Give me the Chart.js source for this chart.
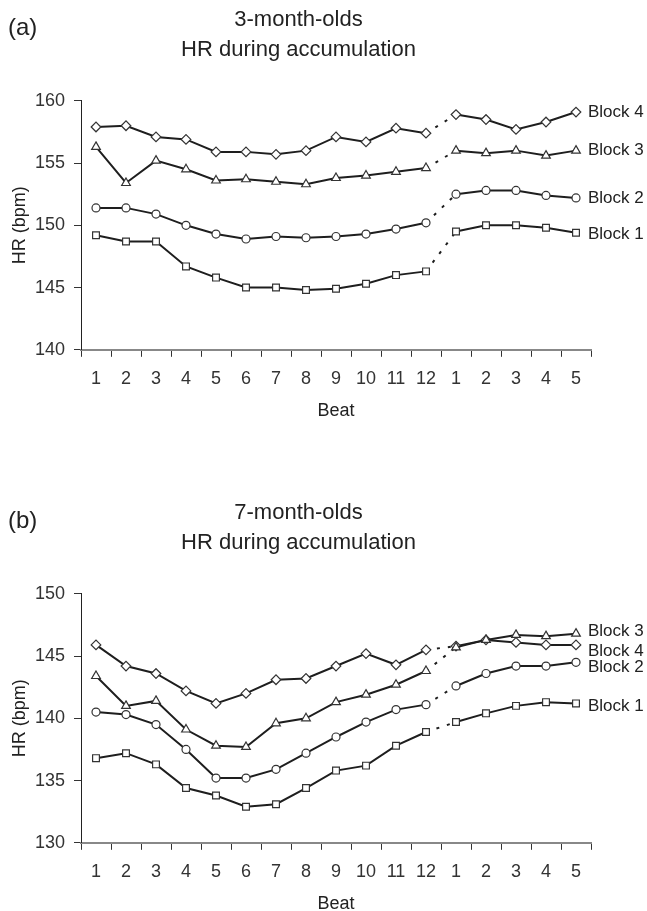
<!DOCTYPE html>
<html>
<head>
<meta charset="utf-8">
<script src="https://cdn.jsdelivr.net/npm/chart.js@4/dist/chart.umd.min.js"></script>
<style>
  html, body { margin: 0; padding: 0; background: #fff; overflow: hidden; }
  #page { position: relative; width: 647px; height: 911px; overflow: hidden; }
  canvas { position: absolute; left: 0; }
</style>
</head>
<body>
<div id="page">
  <canvas id="chartA" width="647" height="455" style="top:0px"></canvas>
  <canvas id="chartB" width="647" height="455" style="top:493px"></canvas>
</div>
<script>
// beats 1-12 of accumulation, then beats 1-5 after
const beatLabels = ['1','2','3','4','5','6','7','8','9','10','11','12','1','2','3','4','5'];
const blockNames = ['Block 1', 'Block 2', 'Block 3', 'Block 4'];

// (a) 3-month-olds
const block1A = [149.2, 148.7, 148.7, 146.7, 145.8, 145.0, 145.0, 144.8, 144.9, 145.3, 146.0, 146.3, 149.5, 150.0, 150.0, 149.8, 149.4];
const block2A = [151.4, 151.4, 150.9, 150.0, 149.3, 148.9, 149.1, 149.0, 149.1, 149.3, 149.7, 150.2, 152.5, 152.8, 152.8, 152.4, 152.2];
const block3A = [156.3, 153.4, 155.2, 154.5, 153.6, 153.7, 153.5, 153.3, 153.8, 154.0, 154.3, 154.6, 156.0, 155.8, 156.0, 155.6, 156.0];
const block4A = [157.9, 158.0, 157.1, 156.9, 155.9, 155.9, 155.7, 156.0, 157.1, 156.7, 157.8, 157.4, 158.9, 158.5, 157.7, 158.3, 159.1];
const labelPosA = [149.3, 152.2, 156.0, 159.1];   // where each Block label sits (Block 1..4)
const yTicksA = [140, 145, 150, 155, 160];

// (b) 7-month-olds
const block1B = [136.8, 137.2, 136.3, 134.4, 133.8, 132.9, 133.1, 134.4, 135.8, 136.2, 137.8, 138.9, 139.7, 140.4, 141.0, 141.3, 141.2];
const block2B = [140.5, 140.3, 139.5, 137.5, 135.2, 135.2, 135.9, 137.2, 138.5, 139.7, 140.7, 141.1, 142.6, 143.6, 144.2, 144.2, 144.5];
const block3B = [143.4, 141.0, 141.4, 139.1, 137.8, 137.7, 139.6, 140.0, 141.3, 141.9, 142.7, 143.8, 145.7, 146.3, 146.7, 146.6, 146.8];
const block4B = [145.9, 144.2, 143.6, 142.2, 141.2, 142.0, 143.1, 143.2, 144.2, 145.2, 144.3, 145.5, 145.8, 146.3, 146.1, 145.9, 145.9];
const labelPosB = [141.0, 144.1, 147.0, 145.4];
const yTicksB = [130, 135, 140, 145, 150];

const FONT = '"Liberation Sans", Arial, sans-serif';
const markerStyles = ['rect', 'circle', 'triangle', 'rectRot'];
const markerSizes = [4.8, 4, 5, 4.8];
const BREAK_INDEX = 11;   // gap between beat 12 and the next beat 1 is dotted

// draws the (a)/(b) tag and the Block labels at the line ends
const panelLabels = {
    id: 'panelLabels',
    afterDatasetsDraw(chart, args, opts) {
        const ctx = chart.ctx;
        const area = chart.chartArea;
        const yScale = chart.scales.y;
        ctx.save();
        ctx.fillStyle = '#222';
        ctx.textBaseline = 'middle';
        ctx.textAlign = 'left';
        ctx.font = '24px ' + FONT;
        ctx.fillText(opts.panel, 8, area.top - 72);
        ctx.font = '17px ' + FONT;
        chart.data.datasets.forEach((ds, i) => {
            const meta = chart.getDatasetMeta(i);
            const last = meta.data[meta.data.length - 1];
            ctx.fillText(ds.label, last.x + 12, yScale.getPixelForValue(opts.labelPos[i]));
        });
        ctx.restore();
    }
};

function buildChart(canvasId, panel, ageTitle, series, labelPos, yTicks) {
    const datasets = series.map((values, i) => ({
        label: blockNames[i],
        data: values,
        borderColor: '#1e1e1e',
        borderWidth: 2,
        pointStyle: markerStyles[i],
        pointRadius: markerSizes[i],
        pointBackgroundColor: '#fff',
        pointBorderColor: '#333',
        pointBorderWidth: 1.2,
        tension: 0,
        segment: {
            borderDash: ctx => ctx.p0DataIndex === BREAK_INDEX ? [3, 8] : undefined
        }
    }));

    return new Chart(document.getElementById(canvasId).getContext('2d'), {
        type: 'line',
        data: { labels: beatLabels, datasets: datasets },
        options: {
            responsive: false,
            animation: false,
            layout: { padding: { left: 6, right: 56, top: 0, bottom: 33 } },
            plugins: {
                legend: { display: false },
                tooltip: { enabled: false },
                title: {
                    display: true,
                    text: [ageTitle, 'HR during accumulation'],
                    color: '#222',
                    font: { family: FONT, size: 22, weight: 'normal', lineHeight: 1.36 },
                    padding: { top: 5, bottom: 36 }
                },
                panelLabels: { panel: panel, labelPos: labelPos }
            },
            scales: {
                x: {
                    type: 'category',
                    offset: true,
                    grid: { display: true, offset: true, drawOnChartArea: false, drawTicks: true, tickLength: 7, color: '#333', tickWidth: 1 },
                    border: { display: true, color: '#888', width: 2 },
                    ticks: { color: '#333', font: { family: FONT, size: 18 }, padding: 11, maxRotation: 0, autoSkip: false },
                    title: { display: true, text: 'Beat', color: '#222', font: { family: FONT, size: 18 }, padding: { top: 0, bottom: 0 } }
                },
                y: {
                    min: yTicks[0],
                    max: yTicks[yTicks.length - 1],
                    afterBuildTicks: scale => { scale.ticks = yTicks.map(v => ({ value: v })); },
                    afterFit: scale => { scale.width = 75; },
                    grid: { display: true, drawOnChartArea: false, drawTicks: true, tickLength: 7, color: '#333' },
                    border: { display: true, color: '#222', width: 1 },
                    ticks: { color: '#333', font: { family: FONT, size: 18 }, padding: 9 },
                    title: { display: true, text: 'HR (bpm)', color: '#222', font: { family: FONT, size: 18 }, padding: { top: 3, bottom: 0 } }
                }
            }
        },
        plugins: [panelLabels]
    });
}

buildChart('chartA', '(a)', '3-month-olds', [block1A, block2A, block3A, block4A], labelPosA, yTicksA);
buildChart('chartB', '(b)', '7-month-olds', [block1B, block2B, block3B, block4B], labelPosB, yTicksB);
</script>
</body>
</html>
